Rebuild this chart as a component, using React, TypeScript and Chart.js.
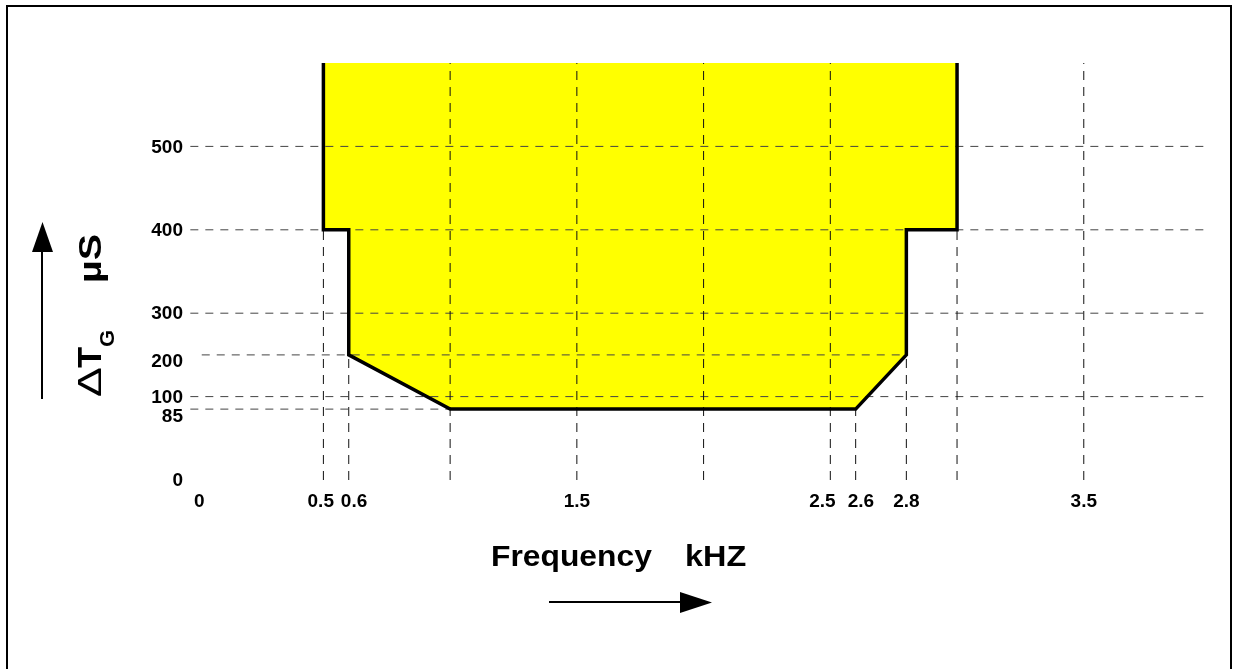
import { useEffect, useRef } from "react";
import { Chart, registerables } from "chart.js";

Chart.register(...registerables);

// ---- data ----
const xTickValues = [0, 0.5, 0.6, 1.5, 2.5, 2.6, 2.8, 3.5];
// labels are nudged sideways in the original drawing (leading/trailing spaces)
const xTickLabels = [" 0", "0.5 ", "  0.6", "1.5", "2.5   ", "  2.6", "2.8", "3.5"];
const yTickValues = [0, 85, 100, 200, 300, 400, 500];
// 85 and 200 sit a bit below their lines in the original
const yTickLabels: (string | string[])[] = ["0", ["", "85"], "100", ["", "200"], "300", "400", "500"];

// schematic (broken) y axis: value knots and their relative positions
const yKnotValues = [0, 100, 300, 600];
const yKnotPositions = [0, 2, 4, 10];

// tolerance mask boundary (frequency kHz, group delay µs)
const boundaryFreq = [0.5, 0.5, 0.6, 0.6, 1.0, 2.6, 2.8, 2.8, 3.0, 3.0];
const boundaryDelay = [600, 400, 400, 200, 85, 85, 200, 400, 400, 600];

// vertical dashed reference lines: frequency and upper end (µs)
const vGridFreq = [0.5, 0.6, 1.0, 1.5, 2.0, 2.5, 2.6, 2.8, 3.0, 3.5];
const vGridTop = [400, 400, 600, 600, 600, 600, 85, 200, 400, 600];

// horizontal dashed reference lines: delay, start and end frequency
const hGridDelay = [500, 400, 300, 200, 100, 85];
const hGridFrom = [-0.025, -0.025, -0.025, 0.02, -0.025, -0.025];
const hGridTo = [3.98, 3.98, 3.98, 2.8, 3.98, 1.0];

const FONT = "'Liberation Sans', Arial, sans-serif";

function toPos(v: number): number {
  for (let i = 1; i < yKnotValues.length; i++) {
    if (v <= yKnotValues[i] || i === yKnotValues.length - 1) {
      const v0 = yKnotValues[i - 1], v1 = yKnotValues[i];
      const p0 = yKnotPositions[i - 1], p1 = yKnotPositions[i];
      return p0 + ((v - v0) / (v1 - v0)) * (p1 - p0);
    }
  }
  return 0;
}

function textScaled(ctx: CanvasRenderingContext2D, text: string, x: number, y: number, font: string, sx: number) {
  ctx.save();
  ctx.translate(x, y);
  ctx.scale(sx, 1);
  ctx.font = font;
  ctx.fillText(text, 0, 0);
  ctx.restore();
}

const decorPlugin = {
  id: "decor",
  afterDraw(chart: any) {
    const ctx = chart.ctx as CanvasRenderingContext2D;
    ctx.save();
    // frame
    ctx.strokeStyle = "#000";
    ctx.lineWidth = 2;
    ctx.strokeRect(7, 6, 1224, 700);

    ctx.fillStyle = "#000";
    // up arrow
    ctx.beginPath();
    ctx.moveTo(42, 399);
    ctx.lineTo(42, 250);
    ctx.stroke();
    ctx.beginPath();
    ctx.moveTo(42.5, 222);
    ctx.lineTo(32, 252);
    ctx.lineTo(53, 252);
    ctx.closePath();
    ctx.fill();
    // right arrow
    ctx.beginPath();
    ctx.moveTo(549, 602);
    ctx.lineTo(682, 602);
    ctx.stroke();
    ctx.beginPath();
    ctx.moveTo(712, 602.5);
    ctx.lineTo(680, 592);
    ctx.lineTo(680, 613);
    ctx.closePath();
    ctx.fill();

    // x title
    ctx.textBaseline = "alphabetic";
    ctx.textAlign = "left";
    textScaled(ctx, "Frequency", 491, 566, `bold 30px ${FONT}`, 1.06);
    textScaled(ctx, "kHZ", 685, 566, `bold 30px ${FONT}`, 1.08);

    // y title (rotated)
    ctx.translate(101, 397);
    ctx.rotate(-Math.PI / 2);
    textScaled(ctx, "\u0394", 0, 0, `normal 33px ${FONT}`, 1.35);
    textScaled(ctx, "T", 29, 0, `bold 33px ${FONT}`, 1.05);
    textScaled(ctx, "G", 50, 13, `bold 21px ${FONT}`, 1.05);
    textScaled(ctx, "\u00B5S", 114, 0, `bold 31px ${FONT}`, 1.27);
    ctx.restore();
  },
};

export default function App() {
  const ref = useRef<HTMLCanvasElement | null>(null);

  useEffect(() => {
    if (!ref.current) return;
    const boundary = boundaryFreq.map((f, i) => ({ x: f, y: toPos(boundaryDelay[i]) }));

    const gridSets: any[] = [];
    vGridFreq.forEach((f, i) => {
      gridSets.push({
        data: [{ x: f, y: toPos(0) }, { x: f, y: toPos(vGridTop[i]) }],
        borderColor: "#111",
        borderWidth: 1,
        borderDash: [9, 7],
        pointRadius: 0,
        fill: false,
        order: 2,
      });
    });
    hGridDelay.forEach((d, i) => {
      gridSets.push({
        data: [{ x: hGridFrom[i], y: toPos(d) }, { x: hGridTo[i], y: toPos(d) }],
        borderColor: "#444",
        borderWidth: 1,
        borderDash: [8, 7],
        pointRadius: 0,
        fill: false,
        order: 2,
      });
    });

    const chart = new Chart(ref.current, {
      type: "line",
      data: {
        datasets: [
          {
            data: boundary,
            borderColor: "#000",
            borderWidth: 3.5,
            borderJoinStyle: "miter",
            pointRadius: 0,
            fill: false,
            order: 1,
          },
          ...gridSets,
          {
            data: boundary,
            borderWidth: 0,
            borderColor: "rgba(0,0,0,0)",
            backgroundColor: "#ffff00",
            pointRadius: 0,
            fill: "end",
            order: 3,
          },
        ],
      },
      options: {
        responsive: false,
        animation: false,
        events: [],
        layout: { padding: { top: 63, right: 23.5, left: 0, bottom: 0 } },
        plugins: { legend: { display: false }, tooltip: { enabled: false } },
        scales: {
          x: {
            type: "linear",
            min: -0.05,
            max: 4.0,
            grid: { display: false, drawTicks: false },
            border: { display: false },
            afterBuildTicks: (scale: any) => {
              scale.ticks = xTickValues.map((v) => ({ value: v }));
            },
            afterFit: (scale: any) => {
              scale.height = 189;
            },
            ticks: {
              autoSkip: false,
              maxRotation: 0,
              padding: 10,
              color: "#000",
              font: { family: FONT, weight: "bold", size: 19 },
              callback: (_v: any, i: number) => xTickLabels[i],
            },
          },
          y: {
            type: "linear",
            min: 0,
            max: 10,
            grid: { display: false, drawTicks: false },
            border: { display: false },
            afterBuildTicks: (scale: any) => {
              scale.ticks = yTickValues.map((v) => ({ value: toPos(v) }));
            },
            afterFit: (scale: any) => {
              scale.width = 184;
            },
            ticks: {
              autoSkip: false,
              padding: 1,
              labelOffset: 1,
              color: "#000",
              font: { family: FONT, weight: "bold", size: 19, lineHeight: 0.65 },
              callback: (_v: any, i: number) => yTickLabels[i],
            },
          },
        },
      },
      plugins: [decorPlugin],
    } as any);
    return () => chart.destroy();
  }, []);

  return (
    <div style={{ position: "absolute", left: 0, top: 0, width: 1234, height: 669, background: "#fff" }}>
      <canvas ref={ref} width={1234} height={669} />
    </div>
  );
}
